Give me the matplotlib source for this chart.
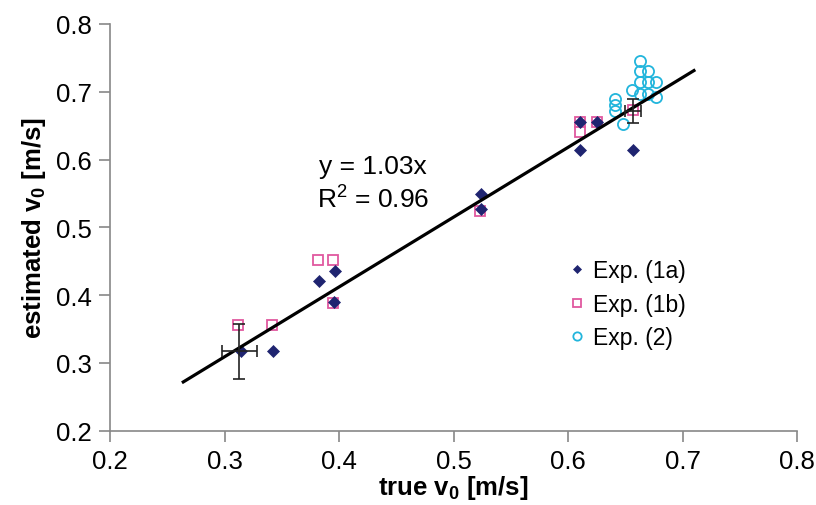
import matplotlib
matplotlib.use("Agg")
import matplotlib.pyplot as plt
import numpy as np

plt.rcParams['font.family'] = ['Liberation Sans', 'DejaVu Sans']
plt.rcParams['mathtext.fontset'] = 'custom'
plt.rcParams['mathtext.rm'] = 'Liberation Sans'
plt.rcParams['mathtext.bf'] = 'Liberation Sans:bold'
plt.rcParams['mathtext.default'] = 'regular'

# Exp. (1a)
x_1a = [0.314, 0.342, 0.3825, 0.3965, 0.3956, 0.524, 0.524, 0.6105, 0.6105, 0.625, 0.657]
y_1a = [0.318, 0.318, 0.421, 0.436, 0.390, 0.549, 0.527, 0.655, 0.614, 0.655, 0.614]
# Exp. (1b)
x_1b = [0.312, 0.3417, 0.382, 0.395, 0.395, 0.523, 0.6105, 0.625, 0.6105, 0.657]
y_1b = [0.356, 0.356, 0.452, 0.452, 0.389, 0.524, 0.656, 0.656, 0.640, 0.673]
# Exp. (2)
x_2 = [0.663, 0.663, 0.670, 0.663, 0.670, 0.677, 0.656, 0.663, 0.670, 0.677, 0.641, 0.641, 0.641, 0.648]
y_2 = [0.745, 0.730, 0.730, 0.714, 0.714, 0.714, 0.702, 0.696, 0.696, 0.692, 0.690, 0.680, 0.671, 0.652]

# error bars (means)
err_x = [0.3127, 0.6568]
err_y = [0.317, 0.672]
err_xe = [0.0153, 0.007]
err_ye = [0.040, 0.018]

slope = 1.03
fit_x = [0.264, 0.710]

navy = '#1f2470'
pink = '#e0589f'
cyan = '#22b5dc'

fig = plt.figure(figsize=(8.16, 5.06), dpi=100)
ax = fig.add_axes([110/816, 1 - 431.7/506, (797-110)/816, (431.7-25)/506])

ax.plot(x_1b, y_1b, linestyle='none', marker='s', ms=7, mfc='white', mec=pink, mew=1.3,
        label='Exp. (1b)', zorder=3)
ax.plot(x_1a, y_1a, linestyle='none', marker='D', ms=6, mfc=navy, mec=navy, mew=0.5,
        label='Exp. (1a)', zorder=4)
ax.plot(x_2, y_2, linestyle='none', marker='o', ms=8, mfc='none', mec=cyan, mew=1.3,
        label='Exp. (2)', zorder=3)

fx = np.array(fit_x)
ax.plot(fx, slope * fx, color='black', lw=2.3, zorder=5)

ax.errorbar(err_x, err_y, xerr=err_xe, yerr=err_ye, fmt='none', ecolor='#222222',
            elinewidth=1.2, capsize=4, capthick=1.2, zorder=6)

ax.text(0.43, 0.591, 'y = 1.03x', fontsize=19, ha='center', va='center')
ax.text(0.43, 0.542, 'R$^{2}$ = 0.96', fontsize=19, ha='center', va='center')

ax.set_xlim(0.2, 0.8)
ax.set_ylim(0.2, 0.8)
ticks = [0.2, 0.3, 0.4, 0.5, 0.6, 0.7, 0.8]
ax.set_xticks(ticks)
ax.set_yticks(ticks)
ax.set_xticklabels([f'{t:.1f}' for t in ticks])
ax.set_yticklabels([f'{t:.1f}' for t in ticks])
ax.tick_params(axis='both', direction='out', length=8, width=1.2, color='#888888',
               labelsize=18.5, pad=5)

for s in ['top', 'right']:
    ax.spines[s].set_visible(False)
for s in ['left', 'bottom']:
    ax.spines[s].set_color('#888888')
    ax.spines[s].set_linewidth(1.2)

ax.set_xlabel('true v$_{0}$ [m/s]', fontsize=18.5, fontweight='bold', labelpad=0)
ax.set_ylabel('estimated v$_{0}$ [m/s]', fontsize=18.5, fontweight='bold', labelpad=6)

h, l = ax.get_legend_handles_labels()
order = [1, 0, 2]
leg = ax.legend([h[i] for i in order], [l[i] for i in order], frameon=False,
                loc='upper left', bbox_to_anchor=(558/816, 1 - 249/506),
                bbox_transform=fig.transFigure, fontsize=16.5, handlelength=0.7,
                handletextpad=0.34, labelspacing=0.45, borderpad=0, markerscale=0.75)

fig.savefig('out.png', dpi=100)
